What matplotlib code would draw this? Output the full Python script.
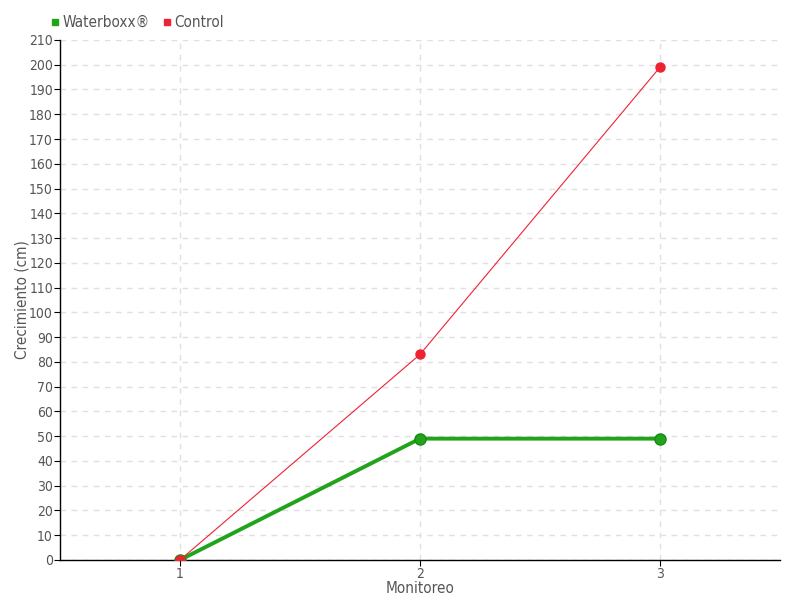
import matplotlib.pyplot as plt
from matplotlib.lines import Line2D
import numpy as np

monitoreo = [1, 2, 3]
waterboxx = [0, 49, 49]
control = [0, 83, 199]

GREEN = '#22a31c'
RED = '#ee2233'
TXT = '#555555'

plt.rcParams['font.family'] = ['DejaVu Sans']
plt.rcParams['font.stretch'] = 'condensed'

fig = plt.figure(figsize=(8, 6), dpi=100)
ax = fig.add_axes([0.075, 0.0667, 0.9, 0.8667])

ax.plot(monitoreo, waterboxx, color=GREEN, lw=2.8, marker='o', ms=8,
        markeredgecolor='#1a8a16', zorder=3)
ax.plot(monitoreo, control, color=RED, lw=0.8, marker='o', ms=6.5,
        markeredgecolor=RED, zorder=4)

ax.set_xlim(0.5, 3.5)
ax.set_ylim(0, 210)
ax.set_xticks(monitoreo)
ax.set_yticks(np.arange(0, 211, 10))
ax.grid(True, color='#e0e0e0', linestyle=(0, (4, 4)), lw=1)
ax.set_axisbelow(True)
for s in ['top', 'right']:
    ax.spines[s].set_visible(False)
ax.spines['left'].set_linewidth(1)
ax.spines['bottom'].set_linewidth(1)
ax.tick_params(axis='both', labelsize=10, colors='black', labelcolor=TXT,
               length=4, pad=1)
ax.set_xlabel('Monitoreo', fontsize=11, color=TXT, labelpad=0)
ax.set_ylabel('Crecimiento (cm)', fontsize=11, color=TXT)
ax.yaxis.set_label_coords(-0.043, 0.5)

handles = [Line2D([], [], color=GREEN, marker='s', ls='', ms=5),
           Line2D([], [], color=RED, marker='s', ls='', ms=5)]
fig.legend(handles, ['Waterboxx®', 'Control'], loc='upper left',
           bbox_to_anchor=(0.042, 0.998), ncol=2, frameon=False,
           fontsize=11, handletextpad=0.0, columnspacing=0.6,
           labelcolor=TXT, handlelength=1.0)

fig.savefig('out.png', dpi=100)
